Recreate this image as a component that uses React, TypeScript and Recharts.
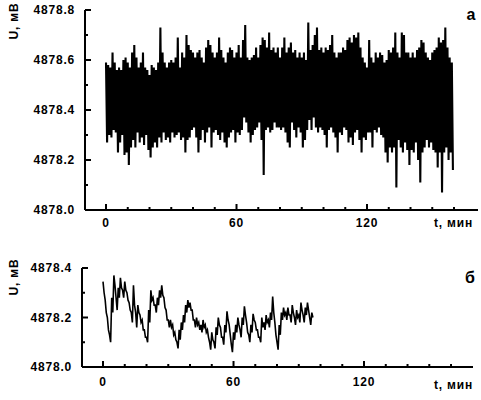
import React from 'react';
import { LineChart, Line, XAxis, YAxis } from 'recharts';

// upper / lower excursions of the signal for every minute
const TOP_HI = [
  4878.59, 4878.58, 4878.57, 4878.63, 4878.59, 4878.56, 4878.57, 4878.56, 4878.60, 4878.61,
  4878.59, 4878.57, 4878.63, 4878.66, 4878.61, 4878.57, 4878.59, 4878.63, 4878.57, 4878.56,
  4878.54, 4878.58, 4878.57, 4878.56, 4878.59, 4878.73, 4878.63, 4878.59, 4878.57, 4878.59,
  4878.60, 4878.59, 4878.61, 4878.69, 4878.57, 4878.63, 4878.61, 4878.70, 4878.66, 4878.64,
  4878.63, 4878.61, 4878.63, 4878.64, 4878.61, 4878.59, 4878.65, 4878.68, 4878.66, 4878.63,
  4878.61, 4878.63, 4878.69, 4878.64, 4878.61, 4878.59, 4878.63, 4878.65, 4878.64, 4878.61,
  4878.63, 4878.66, 4878.61, 4878.68, 4878.74, 4878.61, 4878.60, 4878.61, 4878.62, 4878.65,
  4878.61, 4878.66, 4878.69, 4878.68, 4878.65, 4878.71, 4878.64, 4878.65, 4878.63, 4878.65,
  4878.61, 4878.65, 4878.69, 4878.63, 4878.65, 4878.67, 4878.63, 4878.64, 4878.61, 4878.63,
  4878.61, 4878.63, 4878.60, 4878.75, 4878.64, 4878.66, 4878.70, 4878.73, 4878.64, 4878.65,
  4878.63, 4878.65, 4878.64, 4878.66, 4878.70, 4878.63, 4878.61, 4878.63, 4878.63, 4878.65,
  4878.64, 4878.68, 4878.69, 4878.67, 4878.70, 4878.69, 4878.71, 4878.65, 4878.61, 4878.59,
  4878.57, 4878.68, 4878.61, 4878.59, 4878.63, 4878.61, 4878.63, 4878.62, 4878.59, 4878.60,
  4878.64, 4878.63, 4878.65, 4878.71, 4878.63, 4878.61, 4878.71, 4878.70, 4878.63, 4878.63,
  4878.61, 4878.63, 4878.61, 4878.64, 4878.65, 4878.68, 4878.67, 4878.63, 4878.61, 4878.60,
  4878.63, 4878.64, 4878.65, 4878.69, 4878.67, 4878.68, 4878.73, 4878.65, 4878.61, 4878.59,
];

const TOP_LO = [
  4878.27, 4878.30, 4878.29, 4878.32, 4878.31, 4878.23, 4878.27, 4878.30, 4878.22, 4878.23,
  4878.18, 4878.25, 4878.28, 4878.25, 4878.31, 4878.27, 4878.29, 4878.26, 4878.30, 4878.24,
  4878.21, 4878.25, 4878.27, 4878.25, 4878.29, 4878.27, 4878.31, 4878.28, 4878.29, 4878.27,
  4878.31, 4878.29, 4878.30, 4878.31, 4878.28, 4878.29, 4878.23, 4878.28, 4878.29, 4878.32,
  4878.33, 4878.29, 4878.23, 4878.28, 4878.32, 4878.27, 4878.31, 4878.33, 4878.25, 4878.31,
  4878.32, 4878.30, 4878.28, 4878.31, 4878.27, 4878.25, 4878.29, 4878.31, 4878.32, 4878.27,
  4878.31, 4878.30, 4878.32, 4878.37, 4878.35, 4878.31, 4878.27, 4878.30, 4878.32, 4878.33,
  4878.35, 4878.28, 4878.14, 4878.32, 4878.33, 4878.31, 4878.32, 4878.35, 4878.33, 4878.33,
  4878.32, 4878.33, 4878.31, 4878.27, 4878.25, 4878.35, 4878.32, 4878.29, 4878.33, 4878.31,
  4878.25, 4878.28, 4878.32, 4878.36, 4878.32, 4878.37, 4878.33, 4878.31, 4878.33, 4878.32,
  4878.30, 4878.25, 4878.32, 4878.33, 4878.31, 4878.29, 4878.23, 4878.31, 4878.30, 4878.33,
  4878.32, 4878.27, 4878.29, 4878.26, 4878.31, 4878.32, 4878.28, 4878.23, 4878.29, 4878.28,
  4878.31, 4878.31, 4878.25, 4878.32, 4878.31, 4878.33, 4878.30, 4878.29, 4878.23, 4878.19,
  4878.25, 4878.23, 4878.25, 4878.09, 4878.28, 4878.25, 4878.23, 4878.27, 4878.24, 4878.18,
  4878.24, 4878.23, 4878.27, 4878.20, 4878.11, 4878.23, 4878.25, 4878.28, 4878.25, 4878.27,
  4878.24, 4878.23, 4878.17, 4878.23, 4878.07, 4878.23, 4878.25, 4878.20, 4878.23, 4878.16,
];

const BOTTOM_HI = [
  4878.345, 4878.27, 4878.20, 4878.13, 4878.28, 4878.37, 4878.28, 4878.32, 4878.36, 4878.31,
  4878.345, 4878.30, 4878.26, 4878.22, 4878.33, 4878.22, 4878.25, 4878.21, 4878.19, 4878.15,
  4878.12, 4878.23, 4878.31, 4878.28, 4878.25, 4878.28, 4878.31, 4878.33, 4878.28, 4878.23,
  4878.19, 4878.19, 4878.17, 4878.14, 4878.10, 4878.15, 4878.18, 4878.21, 4878.25, 4878.27,
  4878.26, 4878.23, 4878.19, 4878.20, 4878.18, 4878.17, 4878.19, 4878.17, 4878.15, 4878.10,
  4878.14, 4878.10, 4878.16, 4878.20, 4878.16, 4878.12, 4878.17, 4878.225, 4878.17, 4878.09,
  4878.14, 4878.17, 4878.20, 4878.15, 4878.20, 4878.245, 4878.18, 4878.13, 4878.17, 4878.215,
  4878.18, 4878.15, 4878.12, 4878.20, 4878.18, 4878.21, 4878.19, 4878.22, 4878.285, 4878.18,
  4878.10, 4878.17, 4878.22, 4878.24, 4878.22, 4878.24, 4878.21, 4878.25, 4878.20, 4878.23,
  4878.21, 4878.26, 4878.21, 4878.24, 4878.26, 4878.20, 4878.22,
];

const BOTTOM_LO = [
  4878.30, 4878.22, 4878.15, 4878.10, 4878.22, 4878.33, 4878.23, 4878.28, 4878.32, 4878.28,
  4878.31, 4878.27, 4878.23, 4878.18, 4878.25, 4878.16, 4878.22, 4878.18, 4878.15, 4878.12,
  4878.10, 4878.18, 4878.27, 4878.25, 4878.22, 4878.25, 4878.28, 4878.29, 4878.24, 4878.19,
  4878.16, 4878.16, 4878.13, 4878.11, 4878.075, 4878.11, 4878.15, 4878.18, 4878.22, 4878.24,
  4878.23, 4878.19, 4878.16, 4878.17, 4878.15, 4878.14, 4878.16, 4878.14, 4878.12, 4878.07,
  4878.11, 4878.075, 4878.13, 4878.17, 4878.12, 4878.09, 4878.14, 4878.19, 4878.13, 4878.06,
  4878.11, 4878.14, 4878.17, 4878.12, 4878.17, 4878.21, 4878.14, 4878.10, 4878.14, 4878.19,
  4878.15, 4878.12, 4878.10, 4878.16, 4878.15, 4878.18, 4878.16, 4878.19, 4878.22, 4878.13,
  4878.07, 4878.13, 4878.19, 4878.21, 4878.19, 4878.21, 4878.18, 4878.22, 4878.17, 4878.20,
  4878.18, 4878.23, 4878.18, 4878.21, 4878.23, 4878.17, 4878.20,
];

const X_TICKS = [0, 10, 20, 30, 40, 50, 60, 70, 80, 90, 100, 110, 120, 130, 140, 150, 160];
const X_LABELS = [0, 60, 120];
const TOP_Y_TICKS = [4878.0, 4878.1, 4878.2, 4878.3, 4878.4, 4878.5, 4878.6, 4878.7, 4878.8];
const BOTTOM_Y_TICKS = [4878.0, 4878.1, 4878.2, 4878.3, 4878.4];

const FONT = '"Liberation Sans", Arial, sans-serif';

// one point at the top and one at the bottom of each minute
const toZigzag = (hi: number[], lo: number[]) =>
  hi.flatMap((h, i) => [
    { t: i, u: h },
    { t: i + 0.5, u: lo[i] },
  ]);

const topData = toZigzag(TOP_HI, TOP_LO);
const bottomData = toZigzag(BOTTOM_HI, BOTTOM_LO);

const labelStyle = { fontFamily: FONT, fontWeight: 700, fontSize: 12, letterSpacing: 0.8 };

const makeXTick = (labelOffset: number) => (props: any) => {
  const { x, y, payload } = props;
  const major = X_LABELS.includes(payload.value);
  return (
    <g>
      <line x1={x} x2={x} y1={y} y2={y - (major ? 6 : 3)} stroke="#000" strokeWidth={2} />
      {major && (
        <text x={x} y={y + labelOffset} textAnchor="middle" dominantBaseline="central" fill="#000" style={labelStyle}>
          {payload.value}
        </text>
      )}
    </g>
  );
};

const YTick = (props: any) => {
  const { x, y, payload } = props;
  const major = Math.round(payload.value * 10) % 2 === 0;
  return (
    <g>
      <line x1={x} x2={x + (major ? 6 : 3)} y1={y} y2={y} stroke="#000" strokeWidth={2} />
      {major && (
        <text x={x - 10} y={y} textAnchor="end" dominantBaseline="central" fill="#000" style={labelStyle}>
          {payload.value.toFixed(1)}
        </text>
      )}
    </g>
  );
};

const axisLine = { stroke: '#000', strokeWidth: 2 };

const App: React.FC = () => {
  return (
    <div style={{ position: 'absolute', left: 0, top: 0, width: 481, height: 400, background: '#fff' }}>
      <div style={{ position: 'absolute', left: 0, top: 0 }}>
        <LineChart width={481} height={240} data={topData} margin={{ top: 10, right: 3, left: 0, bottom: 0 }}>
          <XAxis
            dataKey="t"
            type="number"
            domain={[-9.66, 171.03]}
            ticks={X_TICKS}
            interval={0}
            height={30}
            tickSize={0}
            tickMargin={0}
            axisLine={axisLine}
            tickLine={false}
            tick={makeXTick(13)}
          />
          <YAxis
            type="number"
            domain={[4878.0, 4878.8]}
            ticks={TOP_Y_TICKS}
            interval={0}
            width={85}
            tickSize={0}
            tickMargin={0}
            axisLine={axisLine}
            tickLine={false}
            tick={YTick}
          />
          <Line dataKey="u" type="linear" stroke="#000" strokeWidth={2.1} dot={false} isAnimationActive={false} />
        </LineChart>
      </div>
      <div style={{ position: 'absolute', left: 0, top: 240 }}>
        <LineChart width={481} height={160} data={bottomData} margin={{ top: 28, right: 8, left: 0, bottom: 0 }}>
          <XAxis
            dataKey="t"
            type="number"
            domain={[-9.66, 170.1]}
            ticks={X_TICKS}
            interval={0}
            height={33}
            tickSize={0}
            tickMargin={0}
            axisLine={axisLine}
            tickLine={false}
            tick={makeXTick(15)}
          />
          <YAxis
            type="number"
            domain={[4878.0, 4878.4]}
            ticks={BOTTOM_Y_TICKS}
            interval={0}
            width={82}
            tickSize={0}
            tickMargin={0}
            axisLine={axisLine}
            tickLine={false}
            tick={YTick}
          />
          <Line dataKey="u" type="linear" stroke="#000" strokeWidth={1.6} dot={false} isAnimationActive={false} />
        </LineChart>
      </div>
      <svg width={481} height={400} style={{ position: 'absolute', left: 0, top: 0, pointerEvents: 'none' }}>
        <text x={14} y={21} transform="rotate(-90 14 21)" textAnchor="middle" dominantBaseline="central" style={labelStyle}>
          U, мВ
        </text>
        <text x={14} y={277} transform="rotate(-90 14 277)" textAnchor="middle" dominantBaseline="central" style={labelStyle}>
          U, мВ
        </text>
        <text x={473} y={223} textAnchor="end" dominantBaseline="central" style={labelStyle}>
          t, мин
        </text>
        <text x={473} y={385} textAnchor="end" dominantBaseline="central" style={labelStyle}>
          t, мин
        </text>
        <text x={471} y={14} textAnchor="middle" dominantBaseline="central" style={{ fontFamily: FONT, fontWeight: 700, fontSize: 16 }}>
          а
        </text>
        <text x={470} y={277} textAnchor="middle" dominantBaseline="central" style={{ fontFamily: FONT, fontWeight: 700, fontSize: 16 }}>
          б
        </text>
      </svg>
    </div>
  );
};

export default App;
